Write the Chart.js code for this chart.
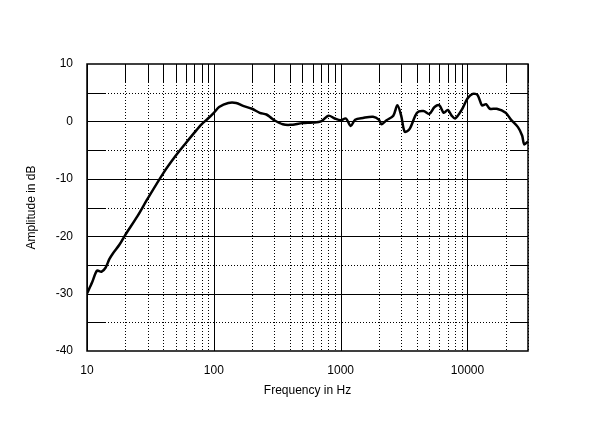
<!DOCTYPE html>
<html>
<head>
<script src="https://cdn.jsdelivr.net/npm/chart.js@4"></script>
<style>body{margin:0;background:#fff}</style>
</head>
<body>
<canvas id="c" width="600" height="422"></canvas>
<script>
const freqs = [10,11,12,13,14,15,16,18,20,25,30,40,50,60,70,80,90,100,110,130,150,170,200,230,260,280,300,350,400,500,600,700,800,900,1000,1100,1200,1300,1500,1800,2000,2100,2300,2600,2800,3000,3200,3500,4000,4500,5000,5500,6000,6500,7000,7500,8000,9000,10000,11000,12000,13000,14000,15000,17000,20000,22000,25000,27000,28000,30000];
const amps = [-30,-28,-26,-26.2,-25.5,-24,-23,-21.5,-19.8,-16.5,-13.5,-9,-6,-3.8,-2,-0.5,0.5,1.5,2.5,3.2,3.2,2.7,2.2,1.5,1.2,0.7,0.2,-0.5,-0.6,-0.3,-0.2,0,1,0.5,0.2,0.5,-0.8,0.3,0.6,0.8,0.3,-0.5,0.2,1,2.8,1,-1.8,-1.3,1.5,1.8,1.3,2.5,2.8,1.5,2,1,0.5,2,4,4.8,4.6,2.8,3,2.2,2.2,1.5,0.3,-1,-2.5,-4,-3.5];
const xTicks = [10,100,1000,10000];
const yTicks = [-40,-30,-20,-10,0,10];

const gridPlugin = {
  id: 'grid',
  beforeDatasetsDraw(chart) {
    const {ctx, chartArea: a, scales: {x, y}} = chart;
    ctx.save();
    ctx.strokeStyle = '#000';
    // vertical lines
    for (let d = 10; d < 30000; d *= 10) {
      for (let m = 1; m <= 9; m++) {
        const f = d * m;
        if (f > 30000) break;
        const px = Math.round(x.getPixelForValue(f)) + 0.5;
        ctx.lineWidth = 1;
        if (m === 1) {
          ctx.setLineDash([]);
          ctx.beginPath(); ctx.moveTo(px, a.top); ctx.lineTo(px, a.bottom); ctx.stroke();
        } else {
          ctx.setLineDash([1, 2]);
          ctx.beginPath(); ctx.moveTo(px, a.top); ctx.lineTo(px, a.bottom); ctx.stroke();
          ctx.setLineDash([]);
          ctx.beginPath(); ctx.moveTo(px, a.top); ctx.lineTo(px, a.top + 18); ctx.stroke();
        }
      }
    }
    // horizontal lines
    for (let v = -35; v < 10; v += 5) {
      const py = Math.round(y.getPixelForValue(v)) + 0.5;
      if (v % 10 === 0) {
        ctx.setLineDash([]);
        ctx.beginPath(); ctx.moveTo(a.left, py); ctx.lineTo(a.right, py); ctx.stroke();
      } else {
        ctx.setLineDash([1, 2]);
        ctx.beginPath(); ctx.moveTo(a.left, py); ctx.lineTo(a.right, py); ctx.stroke();
        ctx.setLineDash([]);
        ctx.beginPath(); ctx.moveTo(a.left, py); ctx.lineTo(a.left + 18, py);
        ctx.moveTo(a.right - 18, py); ctx.lineTo(a.right, py); ctx.stroke();
      }
    }
    ctx.lineWidth = 1.5;
    ctx.strokeRect(a.left, a.top, a.right - a.left, a.bottom - a.top);
    ctx.restore();
  }
};

new Chart(document.getElementById('c'), {
  type: 'line',
  data: {
    datasets: [{
      data: freqs.map((f, i) => ({x: f, y: amps[i]})),
      borderColor: '#000',
      borderWidth: 2.5,
      pointRadius: 0,
      tension: 0.3
    }]
  },
  options: {
    responsive: false,
    animation: false,
    layout: {padding: {left: 20, right: 72, top: 64, bottom: 20}},
    plugins: {legend: {display: false}, tooltip: {enabled: false}},
    scales: {
      x: {
        type: 'logarithmic', min: 10, max: 30000,
        grid: {display: false}, border: {display: false},
        afterBuildTicks: s => { s.ticks = xTicks.map(v => ({value: v})); },
        afterFit: s => { s.height = 51; },
        ticks: {color: '#000', font: {family: 'Liberation Sans', size: 12}, maxRotation: 0, padding: 4,
          callback: v => String(v)},
        title: {display: true, text: 'Frequency in Hz', color: '#000', font: {family: 'Liberation Sans', size: 12}, padding: {top: 10}}
      },
      y: {
        min: -40, max: 10,
        grid: {display: false}, border: {display: false},
        afterBuildTicks: s => { s.ticks = yTicks.map(v => ({value: v})); },
        afterFit: s => { s.width = 67; },
        ticks: {color: '#000', font: {family: 'Liberation Sans', size: 12}, padding: 6},
        title: {display: true, text: 'Amplitude in dB', color: '#000', font: {family: 'Liberation Sans', size: 12}}
      }
    }
  },
  plugins: [gridPlugin]
});
</script>
</body>
</html>
